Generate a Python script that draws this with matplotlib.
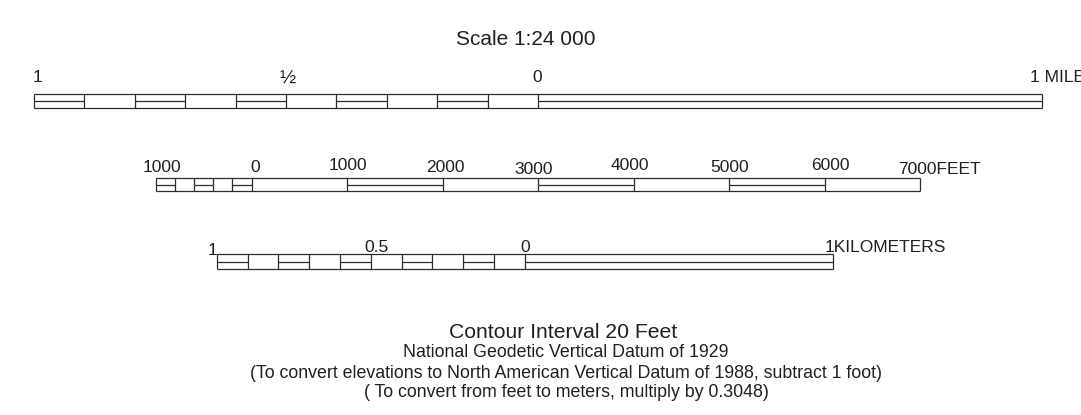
"""Map scale bars: miles, feet and kilometers at 1:24 000."""

import matplotlib

matplotlib.use("Agg")
import matplotlib.pyplot as plt


WIDTH_PX = 1081
HEIGHT_PX = 415
DPI = 100

INK = "#231F20"
LINE = "#2B2B2B"
FONT = ["Liberation Sans", "DejaVu Sans"]

plt.rcParams["font.family"] = FONT

# miles: 1 mile left of zero split in tenths, 1 mile right of zero
MILE_EDGES = [-1.0, -0.9, -0.8, -0.7, -0.6, -0.5, -0.4, -0.3, -0.2, -0.1, 0.0, 1.0]
MILE_DOUBLE = [1, 0, 1, 0, 1, 0, 1, 0, 1, 0, 1]
MILE_TICKS = [-1.0, -0.5, 0.0, 1.0]
MILE_LABELS = ["1", "½", "0", "1 MILE"]

# feet: 1000 ft left of zero in 200 ft steps, 7000 ft right of zero
FEET_EDGES = [-1000, -800, -600, -400, -200, 0, 1000, 2000, 3000, 4000, 5000, 6000, 7000]
FEET_DOUBLE = [1, 0, 1, 0, 1, 0, 1, 0, 1, 0, 1, 0]
FEET_TICKS = [-1000, 0, 1000, 2000, 3000, 4000, 5000, 6000, 7000]
FEET_LABELS = ["1000", "0", "1000", "2000", "3000", "4000", "5000", "6000", "7000FEET"]

# kilometers: 1 km left of zero in tenths, 1 km right of zero
KM_EDGES = [-1.0, -0.9, -0.8, -0.7, -0.6, -0.5, -0.4, -0.3, -0.2, -0.1, 0.0, 1.0]
KM_DOUBLE = [1, 0, 1, 0, 1, 0, 1, 0, 1, 0, 1]
KM_TICKS = [-1.0, -0.5, 0.0, 1.0]
KM_LABELS = ["1", "0.5", "0", "1KILOMETERS"]

TITLE = "Scale 1:24 000"
NOTES = [
    "Contour Interval 20 Feet",
    "National Geodetic Vertical Datum of 1929",
    "(To convert elevations to North American Vertical Datum of 1988, subtract 1 foot)",
    "( To convert from feet to meters, multiply by 0.3048)",
]


def add_pixel_axes(figure, left, right, top, bottom):
    """Add an axes placed by pixel edges (top-left origin)."""
    return figure.add_axes(
        [
            left / WIDTH_PX,
            1 - bottom / HEIGHT_PX,
            (right - left) / WIDTH_PX,
            (bottom - top) / HEIGHT_PX,
        ]
    )


def draw_bar(axis, edges, double):
    """Draw one scale bar: outline, dividers and the mid line of the doubled segments."""
    axis.set_xlim(edges[0], edges[-1])
    axis.set_ylim(0, 1)
    axis.axis("off")
    style = dict(colors=LINE, linewidth=0.9, clip_on=False)
    axis.hlines([0, 1], edges[0], edges[-1], **style)
    axis.vlines(edges, 0, 1, **style)
    starts = [edges[i] for i, flag in enumerate(double) if flag]
    ends = [edges[i + 1] for i, flag in enumerate(double) if flag]
    axis.hlines([0.5] * len(starts), starts, ends, **style)


def label_bar(axis, ticks, labels, shifts, size=12.5):
    """Put the distance labels above a bar, shifted in pixels."""
    for tick, label, (dx, dy, align) in zip(ticks, labels, shifts):
        axis.annotate(
            label,
            xy=(tick, 1),
            xytext=(dx, dy),
            textcoords="offset pixels",
            ha=align,
            va="baseline",
            fontsize=14 if label == "½" else size,
            color=INK,
            annotation_clip=False,
        )


figure = plt.figure(figsize=(WIDTH_PX / DPI, HEIGHT_PX / DPI), dpi=DPI)
figure.patch.set_facecolor("white")

mile_axis = add_pixel_axes(figure, 34, 1042, 94.5, 108.5)
draw_bar(mile_axis, MILE_EDGES, MILE_DOUBLE)
label_bar(
    mile_axis,
    MILE_TICKS,
    MILE_LABELS,
    [(4, 13, "center"), (2, 11, "center"), (-1, 13, "center"), (-12, 13, "left")],
)

feet_axis = add_pixel_axes(figure, 156, 920, 178.5, 191)
draw_bar(feet_axis, FEET_EDGES, FEET_DOUBLE)
label_bar(
    feet_axis,
    FEET_TICKS,
    FEET_LABELS,
    [
        (6, 6, "center"),
        (4, 6, "center"),
        (1, 8, "center"),
        (3, 6, "center"),
        (-4, 5, "center"),
        (-4, 9, "center"),
        (1, 7, "center"),
        (6, 8, "center"),
        (-22, 5, "left"),
    ],
)

km_axis = add_pixel_axes(figure, 216.7, 832.7, 254.5, 269)
draw_bar(km_axis, KM_EDGES, KM_DOUBLE)
label_bar(
    km_axis,
    KM_TICKS,
    KM_LABELS,
    [(-4, 0, "center"), (6, 3, "center"), (0, 3, "center"), (-8, 3, "left")],
)

figure.text(526 / WIDTH_PX, 1 - 45 / HEIGHT_PX, TITLE, ha="center", va="baseline",
            fontsize=15, color=INK)

note_centers = [563, 566, 566, 566]
note_baselines = [337.7, 357.3, 378.0, 396.7]
note_sizes = [15.2, 12.8, 12.8, 12.8]
for note, center, baseline, size in zip(NOTES, note_centers, note_baselines, note_sizes):
    figure.text(center / WIDTH_PX, 1 - baseline / HEIGHT_PX, note, ha="center",
                va="baseline", fontsize=size, color=INK)

figure.savefig("out.png", dpi=DPI, facecolor="white")
plt.close(figure)
